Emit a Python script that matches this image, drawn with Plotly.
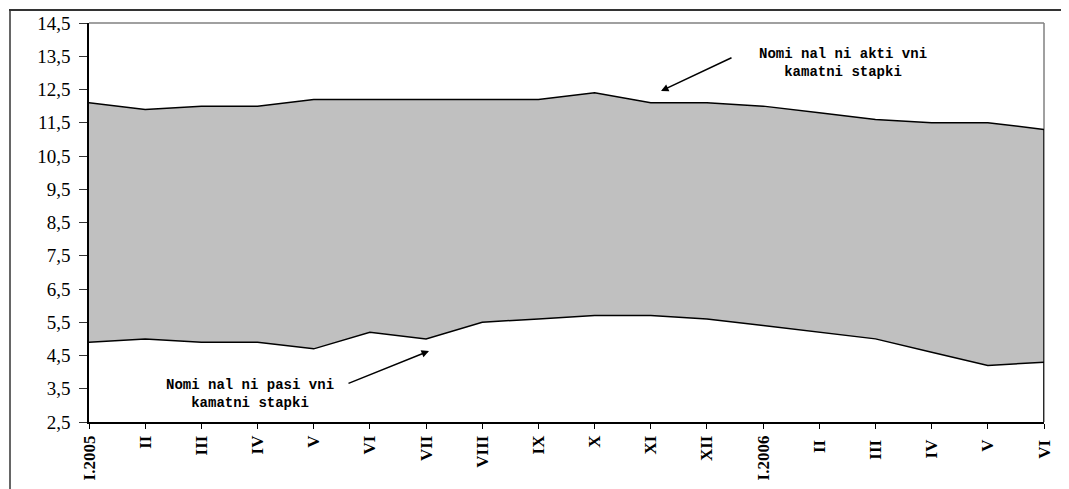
import plotly.graph_objects as go

months = ["I.2005", "II", "III", "IV", "V", "VI", "VII", "VIII", "IX", "X", "XI", "XII",
          "I.2006", "II ", "III ", "IV ", "V ", "VI "]
aktivni = [12.1, 11.9, 12.0, 12.0, 12.2, 12.2, 12.2, 12.2, 12.2, 12.4, 12.1, 12.1,
           12.0, 11.8, 11.6, 11.5, 11.5, 11.3]
pasivni = [4.9, 5.0, 4.9, 4.9, 4.7, 5.2, 5.0, 5.5, 5.6, 5.7, 5.7, 5.6,
           5.4, 5.2, 5.0, 4.6, 4.2, 4.3]
y_min, y_max = 2.5, 14.5
y_ticks = [2.5 + i for i in range(13)]

# page is 1069x489; the html body has an 8px margin
OFF = 8
W, H = 1069 - OFF, 489 - OFF
L, R, T, B = 89 - OFF, 25, 23 - OFF, 67
pw, ph = W - L - R, H - T - B

def px(x):  # page pixel -> paper x
    return (x - OFF - L) / pw

def py(y):  # page pixel -> paper y
    return (H - B - (y - OFF)) / ph

fig = go.Figure()
fig.add_trace(go.Scatter(x=months, y=pasivni, mode="lines",
                         line=dict(color="black", width=1.5), hoverinfo="skip"))
fig.add_trace(go.Scatter(x=months, y=aktivni, mode="lines", fill="tonexty",
                         fillcolor="#C0C0C0", line=dict(color="black", width=1.5),
                         hoverinfo="skip"))
# right edge of filled areas
fig.add_trace(go.Scatter(x=[months[-1], months[-1]], y=[y_min, aktivni[-1]], mode="lines",
                         line=dict(color="black", width=1.5), hoverinfo="skip",
                         cliponaxis=False))

serif = "Liberation Serif"
mono = "Liberation Mono"

fig.update_layout(
    width=W, height=H,
    margin=dict(l=L, r=R, t=T, b=B, autoexpand=False),
    paper_bgcolor="white", plot_bgcolor="white",
    showlegend=False,
    separators=", ",
    xaxis=dict(type="category", range=[0, len(months) - 1], showgrid=False,
               automargin=False,
               showline=True, linecolor="black", linewidth=1.5,
               ticks="outside", ticklen=5, tickcolor="black", tickwidth=1,
               tickangle=-90, zeroline=False,
               tickfont=dict(family=serif, size=17, color="black", weight="bold")),
    yaxis=dict(range=[y_min, y_max], tickvals=y_ticks, tickformat=".1f",
               automargin=False,
               showgrid=False, showline=True, linecolor="black", linewidth=1.5,
               ticks="outside", ticklen=8, tickcolor="#333", tickwidth=1,
               ticklabelstandoff=5, zeroline=False,
               tickfont=dict(family=serif, size=19, color="black")),
    shapes=[
        dict(type="line", xref="paper", yref="paper", x0=0, x1=1, y0=1, y1=1,
             line=dict(color="#808080", width=1.5), layer="below"),
        dict(type="line", xref="paper", yref="paper", x0=1, x1=1, y0=0, y1=1,
             line=dict(color="#808080", width=1.5), layer="below"),
        dict(type="line", xref="paper", yref="paper", x0=px(9), x1=px(1075),
             y0=py(10), y1=py(10), line=dict(color="#333", width=2)),
        dict(type="line", xref="paper", yref="paper", x0=px(10), x1=px(10),
             y0=py(10), y1=py(495), line=dict(color="#333", width=1.5)),
    ],
    annotations=[
        dict(xref="paper", yref="paper", x=px(843), y=py(63), showarrow=False,
             xanchor="center", yanchor="middle",
             text="<b>Nomi nal ni akti vni<br>kamatni stapki</b>", align="center",
             font=dict(family=mono, size=14, color="black")),
        dict(xref="paper", yref="paper", x=px(250), y=py(394), showarrow=False,
             xanchor="center", yanchor="middle",
             text="<b>Nomi nal ni pasi vni<br>kamatni stapki</b>", align="center",
             font=dict(family=mono, size=14, color="black")),
        dict(xref="paper", yref="paper", x=px(661), y=py(91), ax=72, ay=-34,
             showarrow=True, arrowhead=2, arrowsize=1, arrowwidth=1.5,
             arrowcolor="black", text=""),
        dict(xref="paper", yref="paper", x=px(429), y=py(351), ax=-82, ay=33,
             showarrow=True, arrowhead=2, arrowsize=1, arrowwidth=1.5,
             arrowcolor="black", text=""),
    ],
)

fig.write_html("out.html")
